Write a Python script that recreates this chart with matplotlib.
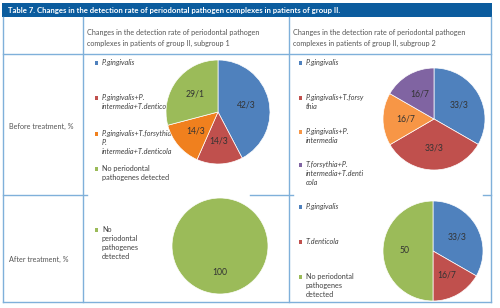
import matplotlib.pyplot as plt
from matplotlib.patches import Rectangle

plt.rcParams['font.family'] = ['Lato', 'DejaVu Sans']

# data
title = 'Table 7. Changes in the detection rate of periodontal pathogen complexes in patients of group II.'
headers = ['Changes in the detection rate of periodontal pathogen\ncomplexes in patients of group II, subgroup 1',
           'Changes in the detection rate of periodontal pathogen\ncomplexes in patients of group II, subgroup 2']
rows = ['Before treatment, %', 'After treatment, %']

s1_before = [42.3, 14.3, 14.3, 29.1]
s1_before_lab = ['42/3', '14/3', '14/3', '29/1']
s1_before_leg = ['P.gingivalis', 'P.gingivalis+P.\nintermedia+T.denticola',
                 'P.gingivalis+T.forsythia+\nP.\nintermedia+T.denticola',
                 'No periodontal\npathogenes detected']
s1_before_col = ['#4f81bd', '#c0504d', '#f0801e', '#9bbb59']

s1_after = [100]
s1_after_lab = ['100']
s1_after_leg = ['No\nperiodontal\npathogenes\ndetected']
s1_after_col = ['#9bbb59']

s2_before = [33.3, 33.3, 16.7, 16.7]
s2_before_lab = ['33/3', '33/3', '16/7', '16/7']
s2_before_leg = ['P.gingivalis', 'P.gingivalis+T.forsy\nthia', 'P.gingivalis+P.\nintermedia',
                 'T.forsythia+P.\nintermedia+T.denti\ncola']
s2_before_col = ['#4f81bd', '#c0504d', '#f79646', '#8064a2']

s2_after = [33.3, 16.7, 50]
s2_after_lab = ['33/3', '16/7', '50']
s2_after_leg = ['P.gingivalis', 'T.denticola', 'No periodontal\npathogenes\ndetected']
s2_after_col = ['#4f81bd', '#c0504d', '#9bbb59']

W, H = 500, 308
fig = plt.figure(figsize=(W / 100, H / 100), dpi=100)
bg = fig.add_axes([0, 0, 1, 1])
bg.set_xlim(0, W)
bg.set_ylim(H, 0)
bg.axis('off')

line_c = '#7fb0da'
txt_c = '#555555'

# title bar
bg.add_patch(Rectangle((2, 3), 490, 14, color='#0b5c9e', lw=0))
bg.text(8, 10.5, title, color='white', fontsize=5.6, fontweight='bold', va='center')

# table lines
lw = 1.0
bg.plot([3, 3], [17, 302], color=line_c, lw=lw)
bg.plot([491, 491], [17, 302], color=line_c, lw=lw)
bg.plot([3, 491], [302, 302], color=line_c, lw=lw)
bg.plot([3, 491], [54, 54], color=line_c, lw=lw)
bg.plot([83, 83], [17, 302], color=line_c, lw=lw)
bg.plot([289, 289], [17, 302], color=line_c, lw=lw)
bg.plot([3, 87], [195, 195], color=line_c, lw=lw)
bg.plot([250, 293], [195, 195], color=line_c, lw=lw)
bg.plot([483, 491], [195, 195], color=line_c, lw=lw)

# headers / row labels
fs = 5.2
bg.text(87, 38, headers[0], color=txt_c, fontsize=fs, va='center', linespacing=1.5)
bg.text(293, 38, headers[1], color=txt_c, fontsize=fs, va='center', linespacing=1.5)
bg.text(9, 126, rows[0], color=txt_c, fontsize=fs, va='center')
bg.text(9, 259, rows[1], color=txt_c, fontsize=fs, va='center')


def legend(x, ys, items, colors):
    for y, item, c in zip(ys, items, colors):
        bg.add_patch(Rectangle((x, y - 1.7), 3.4, 3.4, color=c, lw=0))
        italic = not item.startswith('No')
        bg.text(x + 7, y - 4.3, item, color='#404040', fontsize=fs, va='top',
                style='italic' if italic else 'normal', linespacing=1.35)


def pie(cx, cy, r, values, labels, colors):
    ax = fig.add_axes([(cx - r) / W, 1 - (cy + r) / H, 2 * r / W, 2 * r / H])
    wedges, texts = ax.pie(values, labels=labels, colors=colors, startangle=90,
                           counterclock=False, labeldistance=0.56,
                           wedgeprops=dict(lw=0.5, edgecolor='white'),
                           textprops=dict(fontsize=6.2, color='#333333'))
    for t in texts:
        t.set_ha('center')
        t.set_va('center')
    ax.set_aspect('equal')
    ax.set_xlim(-1, 1)
    ax.set_ylim(-1, 1)


legend(95, [63, 98, 134, 169], s1_before_leg, s1_before_col)
pie(218, 112, 52, s1_before, s1_before_lab, s1_before_col)

legend(95, [230], s1_after_leg, s1_after_col)
pie(220, 246, 48, s1_after, s1_after_lab, s1_after_col)

legend(299, [63, 98, 132, 165], s2_before_leg, s2_before_col)
pie(434, 119, 51, s2_before, s2_before_lab, s2_before_col)

legend(299, [207, 242, 277], s2_after_leg, s2_after_col)
pie(433, 251, 50, s2_after, s2_after_lab, s2_after_col)

fig.savefig('out.png', dpi=100)
